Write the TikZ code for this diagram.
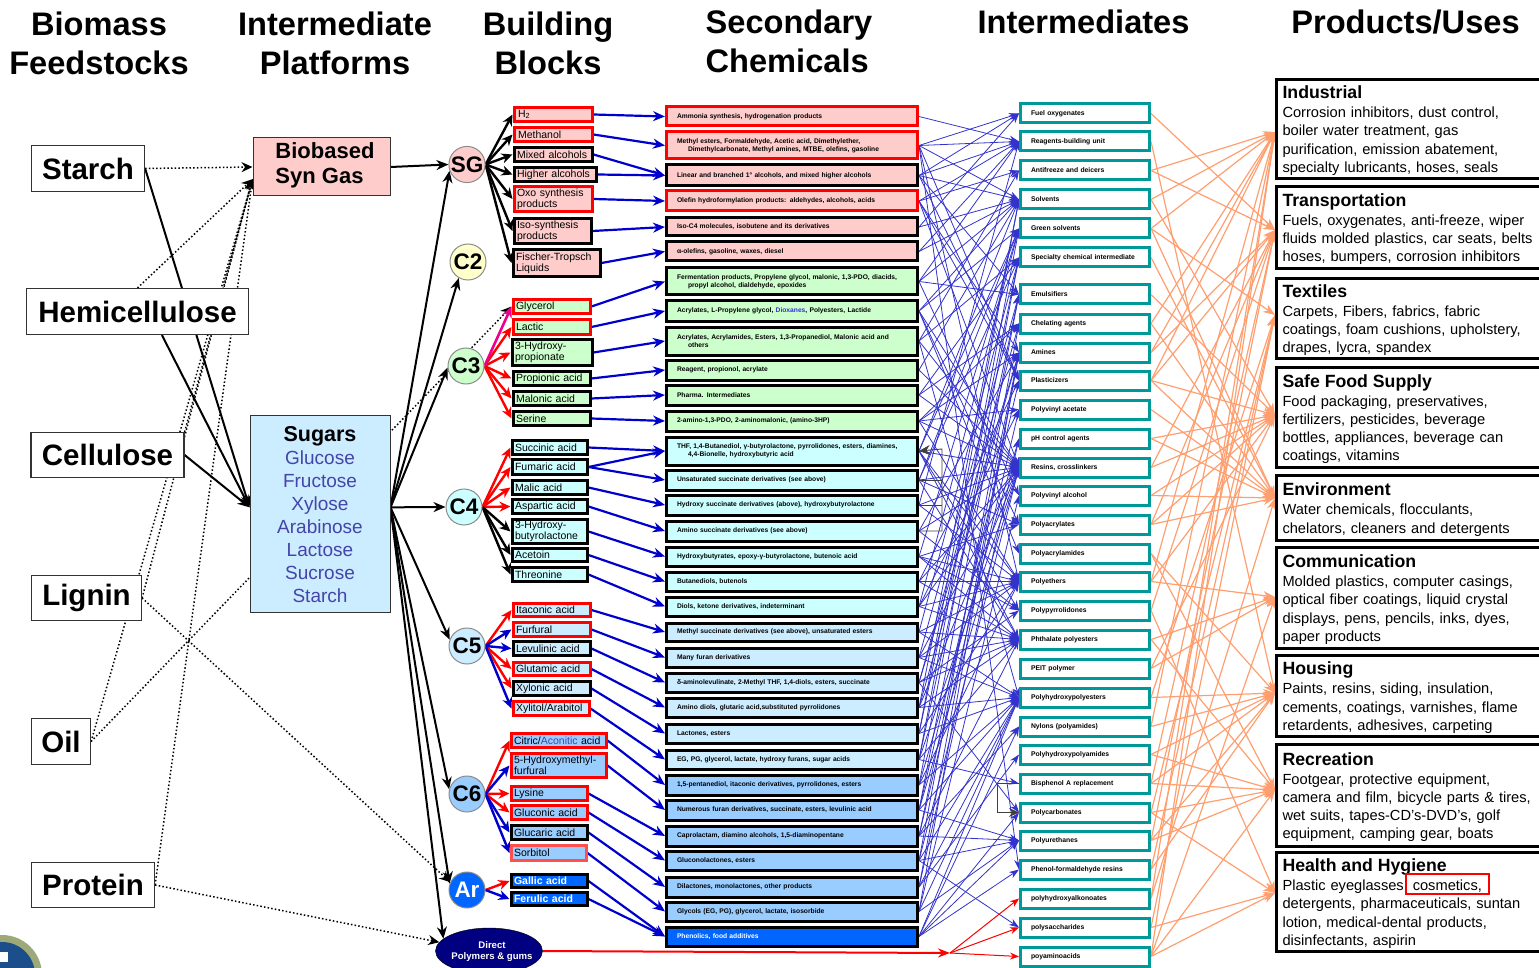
\documentclass[tikz,border=0pt]{standalone}
\usepackage{fontspec}
\setmainfont{Liberation Sans}
\usetikzlibrary{arrows.meta,shapes.geometric,backgrounds}

\definecolor{pinkfill}{HTML}{FFCCCC}
\definecolor{greenfill}{HTML}{CCFFCC}
\definecolor{cyanfill}{HTML}{CCFFFF}
\definecolor{skyfill}{HTML}{CCECFF}
\definecolor{bluefill}{HTML}{99CCFF}
\definecolor{royalfill}{HTML}{0066FF}
\definecolor{navyfill}{HTML}{000080}
\definecolor{cream}{HTML}{FFFFCC}
\definecolor{tealline}{HTML}{009999}
\definecolor{salmonline}{HTML}{FF9F70}
\definecolor{blueline}{HTML}{0000CC}
\definecolor{thinblue}{HTML}{3333CC}
\definecolor{sugartext}{HTML}{4444AA}
\definecolor{softred}{HTML}{FF5050}
\definecolor{sealring}{HTML}{9EA97A}
\definecolor{sealblue}{HTML}{1C4E8C}

\newcommand{\fs}[2]{\fontsize{#1pt}{#2pt}\selectfont}

\tikzset{
  headline/.style={font=\fs{32.6}{39}\bfseries,align=center,inner sep=0pt},
  feedbox/.style={draw=black!80,line width=1.2pt,fill=white,inner sep=0pt,font=\fs{29.5}{34}\bfseries},
  platbox/.style={draw=black!80,line width=1pt,inner sep=0pt},
  blobnode/.style={circle,draw=black!45,line width=1pt,minimum size=36pt,inner sep=0pt,font=\fs{22.5}{24}\bfseries},
  blockbox/.style={line width=3pt,align=left,inner xsep=3pt,inner ysep=0pt,font=\fs{10.5}{11.3}},
  chembox/.style={line width=3pt,align=left,text width=230pt,minimum width=251pt,inner sep=0pt,font=\fs{6.7}{8.2}\bfseries},
  interbox/.style={draw=tealline,fill=white,line width=3pt,align=left,text width=108pt,minimum width=129pt,minimum height=19pt,inner sep=0pt,font=\fs{6.8}{8}\bfseries},
  usebox/.style={draw=black,fill=white,line width=3pt,anchor=west,align=left,text width=270pt,inner xsep=6.5pt,inner ysep=0pt,font=\fs{14.65}{18.2}},
  feedsolid/.style={black,line width=2pt,-{Stealth[length=12pt,width=10pt]}},
  feeddot/.style={black,line width=1.5pt,dash pattern=on 1.5pt off 2.2pt,-{Stealth[length=11pt,width=10pt]}},
  fanblack/.style={black,line width=2.4pt,-{Stealth[length=11pt,width=10pt]}},
  fanred/.style={red,line width=2.4pt,-{Stealth[length=11pt,width=10pt]}},
  fanblue/.style={blueline,line width=2.4pt,-{Stealth[length=11pt,width=10pt]}},
  blockarrow/.style={blueline,line width=2.2pt,-{Stealth[length=12pt,width=10pt]}},
  netblue/.style={thinblue,line width=0.8pt,-{Stealth[length=10pt,width=7pt]}},
  netsalmon/.style={salmonline,line width=1.2pt,-{Stealth[length=12pt,width=9pt]}},
  netred/.style={red,line width=1pt,-{Stealth[length=9pt,width=7pt]}},
  elbowline/.style={black!75,line width=0.9pt},
}

\begin{document}
\begin{tikzpicture}[x=1pt,y=-1pt]
  \useasboundingbox (0,0) rectangle (1539,968);
  \clip (0,0) rectangle (1539,968);

  % Column headings
  \node[headline] at (99,43.5) {Biomass\\Feedstocks};
  \node[headline] at (335,43.5) {Intermediate\\Platforms};
  \node[headline] at (548,43.5) {Building\\Blocks};
  \node[headline,align=left] at (789,41) {Secondary\\Chemicals};
  \node[headline] at (1083.5,22) {Intermediates};
  \node[headline] at (1405.5,22) {Products/Uses};

  % Seal in the corner
  \fill[sealring] (2,975) circle (40);
  \fill[sealblue] (2,975) circle (33);
  \fill[white] (0,952) rectangle (8,962);

  % Feedstocks
  \node[feedbox,minimum width=113pt,minimum height=46pt] (starch) at (88,168.5) {Starch};
  \node[feedbox,minimum width=222pt,minimum height=46pt] (hemi) at (137.5,311.5) {Hemicellulose};
  \node[feedbox,minimum width=153pt,minimum height=45pt] (cellulose) at (107.5,455) {Cellulose};
  \node[feedbox,minimum width=110pt,minimum height=45pt] (lignin) at (86.5,598) {Lignin};
  \node[feedbox,minimum width=59pt,minimum height=46pt] (oil) at (61,741.5) {Oil};
  \node[feedbox,minimum width=123pt,minimum height=45pt] (protein) at (93,885) {Protein};

  % Platforms
  \node[platbox,fill=pinkfill,align=left,minimum width=137pt,minimum height=58pt,font=\fs{22}{25}\bfseries] (biobased) at (321.5,167) {\hspace*{7pt}Biobased\\\hspace*{7pt}Syn Gas\rule[-7pt]{0pt}{0pt}};
  \node[platbox,fill=skyfill,align=center,minimum width=140pt,minimum height=197pt,font=\fs{19}{23},text=sugartext] (sugars) at (320,513.5)
    {\rule{0pt}{18pt}{\fs{21.5}{23}\bfseries\color{black}Sugars}\\Glucose\\Fructose\\Xylose\\Arabinose\\Lactose\\Sucrose\\Starch};

  % Carbon number nodes
  \node[blobnode,fill=pinkfill] (sg) at (467,164.5) {SG};
  \node[blobnode,fill=cream] (c2) at (468,262) {C2};
  \node[blobnode,fill=greenfill] (c3) at (466,366) {C3};
  \node[blobnode,fill=cyanfill] (c4) at (464,507) {C4};
  \node[blobnode,fill=skyfill] (c5) at (467,646) {C5};
  \node[blobnode,fill=bluefill] (c6) at (467,794) {C6};
  \node[blobnode,fill=royalfill,text=white] (ar) at (467,890) {Ar};
  \node[ellipse,fill=navyfill,draw=black,minimum width=107pt,minimum height=46pt,inner sep=0pt] (direct) at (489,951) {};
  \node[inner sep=0pt,align=center,text=white,font=\fs{9.6}{11}\bfseries] (directlabel) at (492,952) {Direct\\Polymers \& gums};

  % Building blocks
  \foreach \n/\xa/\ya/\xb/\yb/\lc/\bg/\txt in {
    hydrogen/513/106/593/123/red/pinkfill/{\hspace*{1pt}H\textsubscript{2}},
    methanol/513/126/593/143/red/pinkfill/{\hspace*{1pt}Methanol},
    mixedalc/513/146/593/163/black/pinkfill/{Mixed alcohols},
    higheralc/513/166/597/183/black/pinkfill/{Higher alcohols},
    oxo/513/185/593/213/red/pinkfill/{Oxo synthesis\\products},
    iso/513/217/592/245/black/pinkfill/{Iso-synthesis\\products},
    fischer/512/248/601/278/black/pinkfill/{Fischer-Tropsch\\Liquids},
    glycerol/512/298/591/315/red/greenfill/{Glycerol},
    lactic/512/318/591/336/red/greenfill/{Lactic},
    hpa/511/338/593/367/black/greenfill/{3-Hydroxy-\\propionate},
    propionic/512/370/591/387/black/greenfill/{Propionic acid},
    malonic/512/390/591/407/black/greenfill/{Malonic acid},
    serine/512/410/591/427/black/greenfill/{Serine},
    succinic/511/439/588/456/black/cyanfill/{Succinic acid},
    fumaric/511/458/588/476/black/cyanfill/{Fumaric acid},
    malic/511/479/588/496/black/cyanfill/{Malic acid},
    aspartic/511/498/588/515/black/cyanfill/{Aspartic acid},
    hbl/511/518/588/545/black/cyanfill/{3-Hydroxy-\\butyrolactone},
    acetoin/511/547/588/563/black/cyanfill/{Acetoin},
    threonine/511/566/588/583/black/cyanfill/{Threonine},
    itaconic/512/602/591/618/red/skyfill/{Itaconic acid},
    furfural/512/621/591/638/red/skyfill/{Furfural},
    levulinic/512/640/591/657/black/skyfill/{Levulinic acid},
    glutamic/512/661/591/677/red/skyfill/{Glutamic acid},
    xylonic/512/680/591/697/black/skyfill/{Xylonic acid},
    xylitol/512/700/590/717/red/skyfill/{Xylitol/Arabitol},
    citric/510/732/607/749/red/bluefill/{Citric/\textcolor{sugartext}{Aconitic} acid},
    hmf/510/752/607/779/red/bluefill/{5-Hydroxymethyl-\\furfural},
    lysine/510/785/588/802/red/bluefill/{Lysine},
    gluconic/510/804/588/821/red/bluefill/{Gluconic acid},
    glucaric/510/824/588/841/black/bluefill/{Glucaric acid},
    sorbitol/510/844/587/862/softred/bluefill/{Sorbitol},
    gallic/510/873/588/889/black/royalfill/{\textcolor{white}{\bfseries Gallic acid}},
    ferulic/510/891/588/907/black/royalfill/{\textcolor{white}{\bfseries Ferulic acid}}}
    \node[blockbox,draw=\lc,fill=\bg,text width={(\xb-\xa-8)*1pt},minimum height={(\yb-\ya-3)*1pt}] (\n) at ({(\xa+\xb)/2},{(\ya+\yb)/2}) {\txt};

  % Secondary chemicals
  \foreach \i/\ya/\yb/\lc/\bg/\txt in {
    1/105/127/red/pinkfill/{Ammonia synthesis, hydrogenation products},
    2/130/160/red/pinkfill/{Methyl esters, Formaldehyde, Acetic acid, Dimethylether,\\\hspace*{11pt}Dimethylcarbonate, Methyl amines, MTBE, olefins, gasoline},
    3/163/187/black/pinkfill/{Linear and branched 1° alcohols, and mixed higher alcohols},
    4/189/212/red/pinkfill/{Olefin hydroformylation products: aldehydes, alcohols, acids},
    5/216/237/black/pinkfill/{Iso-C4 molecules, isobutene and its derivatives},
    6/240/262/black/pinkfill/{α-olefins, gasoline, waxes, diesel},
    7/266/296/black/greenfill/{Fermentation products, Propylene glycol, malonic, 1,3-PDO, diacids,\\\hspace*{11pt}propyl alcohol, dialdehyde, epoxides},
    8/299/322/black/greenfill/{Acrylates, L-Propylene glycol, \textcolor{thinblue}{Dioxanes}, Polyesters, Lactide},
    9/325/356/black/greenfill/{Acrylates, Acrylamides, Esters, 1,3-Propanediol, Malonic acid and\\\hspace*{11pt}others},
    10/358/381/black/greenfill/{Reagent, propionol, acrylate},
    11/383/406/black/greenfill/{Pharma. Intermediates},
    12/409/432/black/greenfill/{2-amino-1,3-PDO, 2-aminomalonic, (amino-3HP)},
    13/435/466/black/cyanfill/{THF, 1,4-Butanediol, γ-butyrolactone, pyrrolidones, esters, diamines,\\\hspace*{11pt}4,4-Bionelle, hydroxybutyric acid},
    14/468/491/black/cyanfill/{Unsaturated succinate derivatives (see above)},
    15/493/516/black/cyanfill/{Hydroxy succinate derivatives (above), hydroxybutyrolactone},
    16/519/542/black/cyanfill/{Amino succinate derivatives (see above)},
    17/545/567/black/cyanfill/{Hydroxybutyrates, epoxy-γ-butyrolactone, butenoic acid},
    18/570/592/black/cyanfill/{Butanediols, butenols},
    19/595/617/black/cyanfill/{Diols, ketone derivatives, indeterminant},
    20/621/642/black/skyfill/{Methyl succinate derivatives (see above), unsaturated esters},
    21/646/668/black/skyfill/{Many furan derivatives},
    22/671/693/black/skyfill/{δ-aminolevulinate, 2-Methyl THF, 1,4-diols, esters, succinate},
    23/696/718/black/skyfill/{Amino diols, glutaric acid,substituted pyrrolidones},
    24/722/744/black/skyfill/{Lactones, esters},
    25/748/770/black/skyfill/{EG, PG, glycerol, lactate, hydroxy furans, sugar acids},
    26/773/796/black/bluefill/{1,5-pentanediol, itaconic derivatives, pyrrolidones, esters},
    27/798/821/black/bluefill/{Numerous furan derivatives, succinate, esters, levulinic acid},
    28/824/847/black/bluefill/{Caprolactam, diamino alcohols, 1,5-diaminopentane},
    29/849/871/black/bluefill/{Gluconolactones, esters},
    30/875/898/black/bluefill/{Dilactones, monolactones, other products},
    31/900/922/black/bluefill/{Glycols (EG, PG), glycerol, lactate, isosorbide},
    32/925/947/black/royalfill/{\textcolor{white}{Phenolics, food additives}}}
    \node[chembox,draw=\lc,fill=\bg,minimum height={(\yb-\ya-3)*1pt}] (s\i) at (792,{(\ya+\yb)/2+0.5}) {\txt};

  % Intermediates
  \foreach \i/\yy/\txt in {
    1/113/Fuel oxygenates, 2/141/Reagents-building unit, 3/170/Antifreeze and deicers,
    4/199/Solvents, 5/228/Green solvents, 6/257/Specialty chemical intermediate,
    7/294/Emulsifiers, 8/323/Chelating agents, 9/352/Amines, 10/380/Plasticizers,
    11/409/Polyvinyl acetate, 12/438/pH control agents, 13/467/{Resins, crosslinkers},
    14/495/Polyvinyl alcohol, 15/524/Polyacrylates, 16/553/Polyacrylamides,
    17/581/Polyethers, 18/610/Polypyrrolidones, 19/639/Phthalate polyesters,
    20/668/PEIT polymer, 21/697/Polyhydroxypolyesters, 22/726/Nylons (polyamides),
    23/754/Polyhydroxypolyamides, 24/783/Bisphenol A replacement, 25/812/Polycarbonates,
    26/840/Polyurethanes, 27/869/Phenol-formaldehyde resins, 28/898/polyhydroxyalkonoates,
    29/927/polysaccharides, 30/956/poyaminoacids}
    \node[interbox] (i\i) at (1085,\yy+0.5) {\txt};

  % Products and uses
  \foreach \i/\ya/\yb/\ty/\ttl/\txt in {
    1/78/180/132/Industrial/{Corrosion inhibitors, dust control,\\boiler water treatment, gas\\purification, emission abatement,\\specialty lubricants, hoses, seals},
    2/185/270/230/Transportation/{Fuels, oxygenates, anti-freeze, wiper\\fluids molded plastics, car seats, belts\\hoses, bumpers, corrosion inhibitors},
    3/277/360/315/Textiles/{Carpets, Fibers, fabrics, fabric\\coatings, foam cushions, upholstery,\\drapes, lycra, spandex},
    4/366/469/415/Safe Food Supply/{Food packaging, preservatives,\\fertilizers, pesticides, beverage\\bottles, appliances, beverage can\\coatings, vitamins},
    5/474/542/498/Environment/{Water chemicals, flocculants,\\chelators, cleaners and detergents},
    6/546/650/597/Communication/{Molded plastics, computer casings,\\optical fiber coatings, liquid crystal\\displays, pens, pencils, inks, dyes,\\paper products},
    7/654/738/693/Housing/{Paints, resins, siding, insulation,\\cements, coatings, varnishes, flame\\retardents, adhesives, carpeting},
    8/743/848/790/Recreation/{Footgear, protective equipment,\\camera and film, bicycle parts \& tires,\\wet suits, tapes-CD's-DVD's, golf\\equipment, camping gear, boats},
    9/851/953/893/Health and Hygiene/{Plastic eyeglasses, cosmetics,\\detergents, pharmaceuticals, suntan\\lotion, medical-dental products,\\disinfectants, aspirin}}
  {
    \node[usebox,minimum height={(\yb-\ya-3)*1pt}] (p\i) at (1274.5,{(\ya+\yb)/2}) {\rule{0pt}{16pt}{\fs{17.7}{20.5}\bfseries \ttl}\\[1pt]\txt};
    \coordinate (tip\i) at (1275,\ty);
  }

  % Highlight on one product
  \draw[red,line width=2pt] (1406,874) rectangle (1489,894);

  \coordinate (hub) at (950,953);
  \coordinate (thfbus) at (942,449);

  \begin{scope}[on background layer]
    % Feedstocks to platforms
    \draw[feedsolid] (starch.east) -- (sugars.175);
    \draw[feedsolid] (hemi.-44) -- (sugars.175);
    \draw[feedsolid] (cellulose.east) -- (sugars.175);
    \draw[feeddot] (starch.east) -- (biobased.west);
    \foreach \a in {hemi.north,cellulose.north east,lignin.east,oil.east,protein.east}
      \draw[feeddot] (\a) -- (biobased.190);
    \draw[feeddot] (lignin.east) -- (ar.155);
    \draw[feeddot] (oil.east) -- (glycerol.west);
    \draw[feeddot] (protein.east) -- (direct.170);

    % Platforms to carbon nodes
    \draw[feedsolid] (biobased.east) -- (sg.west);
    \foreach \b/\ang in {sg/200,c2/240,c3/185,c4/180,c5/160,c6/165,ar/160,direct/165}
      \draw[feedsolid] (sugars.5) -- (\b.\ang);

    % Carbon nodes to building blocks
    \foreach \b in {hydrogen,methanol,mixedalc,higheralc,oxo,iso,fischer}
      \draw[fanblack] (sg.east) -- (\b.west);
    \foreach \b in {lactic,hpa,propionic,malonic,serine}
      \draw[fanred] (c3.east) -- (\b.west);
    \draw[magenta,line width=2.6pt,-{Stealth[length=11pt,width=10pt]}] (c3.east) -- (glycerol.west);
    \foreach \b in {succinic,fumaric,malic,aspartic}
      \draw[fanred] (c4.east) -- (\b.west);
    \foreach \b in {hbl,acetoin,threonine}
      \draw[fanblack] (c4.east) -- (\b.west);
    \foreach \b in {itaconic,glutamic,xylonic}
      \draw[fanred] (c5.east) -- (\b.west);
    \foreach \b in {furfural,levulinic,xylitol}
      \draw[fanblue] (c5.east) -- (\b.west);
    \foreach \b in {citric,lysine,gluconic}
      \draw[fanred] (c6.east) -- (\b.west);
    \foreach \b in {hmf,glucaric,sorbitol}
      \draw[fanblue] (c6.east) -- (\b.west);
    \draw[fanred] (ar.east) -- (gallic.west);
    \draw[fanblue] (ar.east) -- (ferulic.west);

    % Building blocks to secondary chemicals
    \foreach \a/\b in {hydrogen/1,methanol/2,mixedalc/3,higheralc/3,oxo/4,iso/5,fischer/6,
      glycerol/7,lactic/8,hpa/9,propionic/10,malonic/11,serine/12,
      succinic/13,fumaric/13,fumaric/14,malic/15,aspartic/16,hbl/17,acetoin/18,threonine/19,
      itaconic/20,furfural/21,levulinic/22,glutamic/23,xylonic/24,xylitol/25,
      citric/26,hmf/27,lysine/28,gluconic/29,glucaric/30,sorbitol/31,gallic/32,ferulic/32}
      \draw[blockarrow] (\a.east) -- (s\b.west);

    % Secondary chemicals to intermediates
    \foreach \a/\b in {1/2,
      2/1,2/2,2/4,2/10,2/17,2/27,
      3/1,3/2,3/4,3/7,3/10,
      4/2,4/3,4/9,4/10,4/13,
      5/1,5/4,
      6/2,6/4,
      7/2,7/4,7/7,7/14,
      8/4,8/5,8/13,8/15,8/16,
      9/3,9/6,9/13,9/21,
      10/4,10/13,
      11/6,11/8,11/13,
      12/8,12/9,12/11,12/13,12/17,
      13/4,13/5,13/13,13/17,13/18,13/19,
      14/5,14/6,14/13,14/15,14/19,
      15/2,15/13,15/17,
      16/9,16/13,16/18,
      17/5,17/15,17/17,17/18,17/19,
      18/10,18/13,18/17,18/19,
      19/5,19/11,19/13,19/17,19/19,
      20/6,20/17,20/19,20/21,
      21/7,21/13,21/17,21/19,21/21,
      22/8,22/9,22/18,22/19,22/25,
      23/4,23/9,23/13,23/19,23/21,
      24/4,24/6,24/17,24/21,
      25/5,25/7,25/13,25/19,25/24,
      26/6,26/12,26/17,26/21,
      27/7,27/10,27/13,27/21,27/26,
      28/9,28/11,28/19,28/22,28/26,
      29/8,29/13,29/21,29/26,29/29,
      30/9,30/12,30/21,30/23,
      31/9,31/14,31/21,31/26,
      32/21,32/22,32/25,32/26,32/27}
      \draw[netblue] (s\a.east) -- (i\b.west);

    % Intermediates to products
    \foreach \a/\b in {1/2,2/7,
      3/1,3/2,
      4/1,4/4,
      5/1,5/3,5/5,
      6/5,7/4,
      8/1,8/5,
      9/1,9/2,
      10/1,10/2,10/4,10/5,
      11/5,12/4,12/5,
      13/2,13/4,
      14/4,14/5,
      15/2,15/4,15/5,
      16/7,16/8,
      17/1,17/4,17/6,
      18/2,18/9,
      19/6,19/8,
      20/4,20/6,
      21/3,21/7,
      22/1,22/7,
      23/7,23/8,
      24/2,24/7,24/8,
      25/3,25/8,25/9,
      26/2,26/7,26/8,
      27/3,27/7,
      28/1,28/5,
      29/3,29/9,
      30/1,30/6,30/8,30/9}
      \draw[netsalmon] (i\a.east) -- (tip\b);

    % Direct route
    \draw[red,line width=2pt,-{Stealth[length=12pt,width=9pt]}] (direct.east) -- (hub);
    \foreach \b in {28,29,30}
      \draw[netred] (hub) -- (i\b.west);

    % Elbow links
    \draw[elbowline,-{Stealth[length=11pt,width=10pt]}] (s16.east) -| (thfbus) -- (s13.east);
    \draw[elbowline] (s14.east) -- (s14.east -| thfbus);
    \draw[elbowline] (s15.east) -- (s15.east -| thfbus);
    \draw[elbowline,-{Stealth[length=10pt,width=9pt]}] (i24.west) -- ++(-22,0) |- (i25.west);
  \end{scope}
\end{tikzpicture}
\end{document}
